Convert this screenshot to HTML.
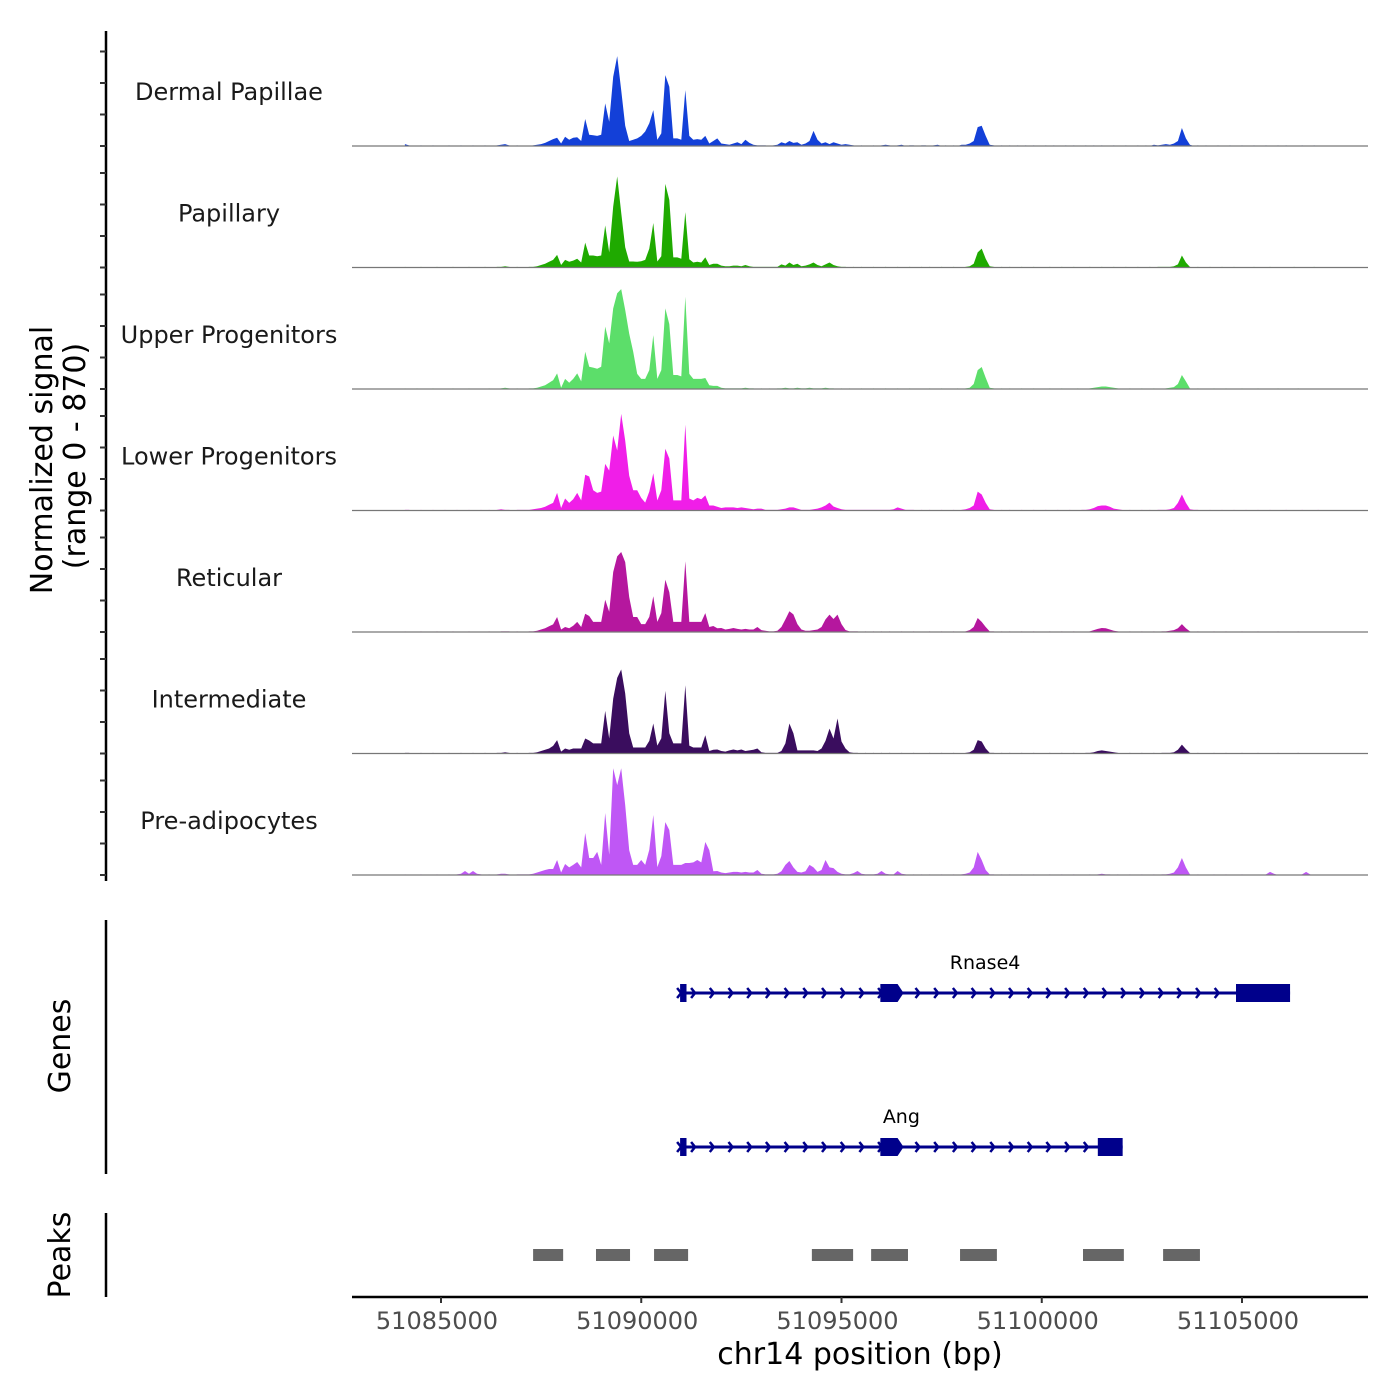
<!DOCTYPE html>
<html><head><meta charset="utf-8"><style>
html,body{margin:0;padding:0;background:#fff;width:1400px;height:1400px;overflow:hidden}
svg text{font-family:"DejaVu Sans","Liberation Sans",sans-serif}
</style></head><body>
<svg id="chart" width="1400" height="1400" viewBox="0 0 1400 1400" xmlns="http://www.w3.org/2000/svg">
<g id="tracks"></g>
<g id="yaxis"></g>
<text transform="translate(52,460) rotate(-90)" text-anchor="middle" font-size="30" fill="#000">Normalized signal</text>
<text transform="translate(85,456) rotate(-90)" text-anchor="middle" font-size="30" fill="#000">(range 0 - 870)</text>
<line x1="106" y1="920" x2="106" y2="1174" stroke="#000" stroke-width="2.5"/>
<text transform="translate(70,1046) rotate(-90)" text-anchor="middle" font-size="30" fill="#000">Genes</text>
<line x1="106" y1="1213" x2="106" y2="1297" stroke="#000" stroke-width="2.5"/>
<text transform="translate(70,1255) rotate(-90)" text-anchor="middle" font-size="30" fill="#000">Peaks</text>
<g id="genes"></g>
<g id="peaks"></g>
<g id="xaxis"></g>
<text x="860" y="1364" text-anchor="middle" font-size="30" fill="#000">chr14 position (bp)</text>
</svg>
<script>
const binStart = 51084100;
const binStep = 100;
const trackNames = ["Dermal Papillae","Papillary","Upper Progenitors","Lower Progenitors","Reticular","Intermediate","Pre-adipocytes"];
const trackColors = ["#1340d8","#1faa00","#5cde6a","#f01ee8","#b5179e","#3a0d5e","#bf57f5"];
const dermalPapillae = [
15,5,0,0,5,0,0,5,0,0, 0,5,0,0,5,0,0,5,0,0, 5,0,0,5,10,15,5,0,5,0,
0,0,5,10,15,25,40,55,66,20, 74,50,65,70,40,214,90,85,80,90,
338,193,550,714,444,160,40,50,60,80, 115,180,285,50,100,563,470,60,60,50,
444,80,50,55,50,80,20,40,60,20, 15,10,20,30,15,50,25,10,5,5,
5,0,5,10,30,20,40,25,30,10, 20,40,120,50,20,30,15,30,20,10,
15,10,5,0,5,0,0,5,0,5, 10,5,0,5,10,0,5,5,0,5, 5,0,5,10,0,5,0,5,0,10,
10,20,40,150,160,80,10,5,0,5, 0,5,0,5,0,5,0,5,0,0, 5,0,5,0,0,5,0,5,0,0,
5,0,5,0,5,0,0,5,0,0, 5,0,0,5,0,5,0,10,5,10, 15,10,20,40,143,60,10,0,5,0,
5,0,0,5,0,0,5,0,0,5, 0,0,5,0,0,5,0,0,5,0, 5,0,0,0,5,0,0,5,0,0, 0];
const papillary = [
5,0,0,0,5,0,0,0,5,0, 0,0,5,0,0,0,5,0,0,0, 5,0,0,5,5,10,5,0,5,0,
0,5,5,10,20,30,45,60,100,20, 60,45,55,70,40,198,95,95,90,95,
333,120,484,722,436,160,48,48,45,50, 60,150,353,48,90,664,537,80,80,70,
440,65,40,45,40,80,20,30,30,15, 10,10,15,15,10,20,10,5,5,5,
5,5,5,5,25,15,40,20,30,10, 15,25,40,20,10,25,40,20,10,5,
5,0,5,0,5,0,0,5,0,0, 5,0,0,5,0,0,5,0,0,5, 0,5,0,0,5,0,0,5,0,0,
5,10,30,120,150,70,10,5,0,5, 0,5,0,0,5,0,0,5,0,0, 0,5,0,0,5,0,0,5,0,0,
0,5,0,0,5,0,0,5,0,0, 5,0,0,5,0,0,5,0,5,5, 5,5,10,25,95,40,5,0,5,0,
0,5,0,0,5,0,0,5,0,0, 0,0,5,0,0,0,5,0,0,0, 0,0,5,0,0,0,0,5,0,0, 0];
const upperProgenitors = [
5,0,0,5,0,0,0,5,0,0, 0,0,5,0,0,0,5,0,0,0, 0,5,0,0,5,10,5,0,5,0,
0,5,5,10,20,30,50,70,124,10, 80,50,80,124,60,296,177,170,160,177,
495,362,640,760,793,627,440,296,120,80, 80,150,428,80,150,640,515,111,111,100,
733,120,80,80,80,87,30,25,25,10, 5,5,5,5,5,10,5,5,0,5,
0,5,0,5,5,10,5,5,10,5, 5,10,5,5,5,10,5,5,0,5,
0,5,0,0,5,0,0,5,0,0, 5,0,0,5,0,0,5,0,0,0, 0,5,0,0,5,0,0,0,5,0,
5,10,40,150,175,90,10,5,0,5, 0,5,0,0,5,0,0,5,0,0, 0,5,0,0,5,0,0,0,5,0,
0,5,10,15,20,20,15,10,5,0, 0,5,0,0,5,0,0,5,0,0, 5,10,15,40,111,60,5,0,5,0,
0,0,5,0,0,5,0,0,0,5, 0,0,0,5,0,0,0,0,5,0, 0,0,0,5,0,0,0,0,0,0, 0];
const lowerProgenitors = [
5,5,0,0,5,0,0,5,0,0, 5,0,0,5,0,0,5,0,0,5, 0,5,0,5,10,5,5,0,5,5,
5,5,10,15,20,30,45,60,140,20, 95,60,90,140,80,283,270,160,140,150,
370,317,595,476,767,555,277,160,160,100, 63,150,296,80,160,490,413,80,80,80,
682,95,80,100,90,120,40,40,30,20, 25,25,25,20,25,20,15,10,15,15,
5,5,5,5,10,15,25,25,15,5, 5,5,10,15,25,40,63,32,20,10,
5,5,5,5,5,5,5,5,5,5, 5,5,10,25,15,5,5,5,0,5, 0,5,0,0,5,0,0,5,0,5,
10,20,40,150,127,60,10,5,0,5, 0,5,0,0,5,0,0,5,0,0, 5,0,0,5,0,0,5,0,0,5,
5,10,20,35,40,40,30,15,10,5, 0,5,0,0,5,0,5,0,5,5, 5,10,20,60,127,60,10,5,5,0,
0,5,0,0,5,0,0,5,0,0, 5,0,0,5,0,0,5,0,0,0, 5,0,0,0,5,0,0,0,5,0, 0];
const reticular = [
5,0,0,0,5,0,0,0,5,0, 0,0,5,0,0,0,5,0,0,0, 0,5,0,0,5,5,5,0,5,0,
0,5,5,10,20,30,45,60,119,20, 40,30,50,80,40,145,127,80,80,80,
256,160,476,600,635,555,277,119,119,63, 63,120,283,80,150,415,317,80,80,80,
561,80,80,80,80,150,40,48,30,32, 20,25,32,25,20,25,20,20,40,15,
10,5,5,10,40,100,165,140,63,20, 10,10,15,20,40,100,138,103,138,63,
16,5,5,5,0,5,0,5,0,5, 0,5,0,0,5,0,0,5,0,0, 0,5,0,0,5,0,0,5,0,0,
5,15,40,111,80,40,5,5,0,5, 0,5,0,0,5,0,0,5,0,0, 0,5,0,0,5,0,0,5,0,0,
0,5,15,25,32,30,20,10,5,0, 0,5,0,0,5,0,0,5,0,5, 5,10,15,30,63,30,5,0,5,0,
0,0,5,0,0,5,0,0,0,5, 0,0,0,5,0,0,0,0,5,0, 0,0,0,5,0,0,0,0,0,0, 0];
const intermediate = [
5,5,0,0,5,0,0,5,0,0, 0,5,0,0,5,0,0,5,0,0, 5,0,0,5,5,10,5,0,5,0,
0,5,5,10,20,30,40,60,106,15, 40,30,40,40,40,119,103,80,80,80,
338,119,436,600,667,476,160,48,48,48, 48,100,238,63,120,497,160,80,80,80,
542,63,48,48,48,145,20,30,32,20, 15,25,32,25,32,20,25,30,40,10,
5,5,5,5,20,80,238,160,25,25, 25,25,25,20,40,100,198,119,278,95,
40,10,5,5,0,5,0,5,0,5, 0,5,0,0,5,0,0,5,0,0, 0,5,0,0,5,0,0,5,0,0,
5,10,30,106,95,40,5,5,0,5, 0,5,0,0,5,0,0,5,0,0, 0,5,0,0,5,0,0,5,0,0,
5,5,10,20,25,20,15,10,5,0, 0,5,0,0,5,0,0,5,0,5, 5,5,10,30,71,35,5,0,5,0,
0,0,5,0,0,5,0,0,0,5, 0,0,0,5,0,0,0,0,5,0, 0,0,0,5,0,0,0,0,0,0, 0];
const preAdipocytes = [
5,0,0,0,5,0,0,0,5,0, 0,5,0,5,10,32,10,32,10,5, 0,5,0,5,10,10,5,0,5,5,
5,5,10,20,30,40,48,48,119,20, 87,60,80,103,60,333,135,135,183,80,
492,160,847,714,847,555,198,80,80,119, 80,200,476,63,150,420,357,80,80,80,
95,95,100,119,100,262,198,30,32,20, 15,20,25,25,20,25,20,20,40,10,
5,5,5,10,30,80,111,60,25,20, 30,80,60,25,40,119,60,55,25,10,
5,5,15,32,10,5,5,5,10,32, 10,5,5,32,10,5,0,5,0,5, 0,5,0,0,5,0,0,5,0,5,
10,20,60,183,119,40,5,5,0,5, 0,5,0,0,5,0,0,5,0,0, 0,5,0,0,5,0,0,5,0,0,
0,5,0,5,10,5,5,0,5,0, 0,5,0,0,5,0,0,5,0,5, 5,10,20,60,135,60,5,0,5,0,
0,0,5,0,0,5,0,0,0,5, 0,0,0,0,0,5,25,10,0,0, 0,0,0,0,5,25,5,0,0,0, 0];
const trackValues = [dermalPapillae,papillary,upperProgenitors,lowerProgenitors,reticular,intermediate,preAdipocytes];
const xTicks = [51085000,51090000,51095000,51100000,51105000];
const geneNames = ["Rnase4","Ang"];
const geneStarts = [51090970,51090970];
const geneEnds = [51106200,51102020];
const geneExonStarts = [[51090970,51095970,51104850],[51090970,51095970,51101400]];
const geneExonEnds = [[51091130,51096500,51106200],[51091130,51096500,51102020]];
const peakStarts = [51087300,51088870,51090320,51094260,51095740,51097960,51101030,51103030];
const peakEnds = [51088050,51089720,51091170,51095290,51096660,51098880,51102050,51103950];

const NS="http://www.w3.org/2000/svg";
function mk(tag,attrs,parent){const e=document.createElementNS(NS,tag);for(const k in attrs)e.setAttribute(k,attrs[k]);parent.appendChild(e);return e;}
const xDom=[51082778,51108146], xRng=[352,1368];
function xs(bp){return xRng[0]+(bp-xDom[0])*(xRng[1]-xRng[0])/(xDom[1]-xDom[0]);}
const trackTop0=36.4, trackPitch=121.5, signalMax=870, signalPx=109.6;
function base(t){return trackTop0+signalPx+t*trackPitch;}
function ys(t,v){return base(t)-v*signalPx/signalMax;}

const tg=document.getElementById('tracks');
trackValues.forEach((vals,t)=>{
  const b=base(t);
  let d='M'+xs(binStart).toFixed(1)+','+b.toFixed(1);
  vals.forEach((v,i)=>{d+=' L'+xs(binStart+i*binStep).toFixed(1)+','+ys(t,v).toFixed(1);});
  d+=' L'+xs(binStart+(vals.length-1)*binStep).toFixed(1)+','+b.toFixed(1)+' Z';
  const p=mk('path',{d:d,fill:trackColors[t],stroke:'none'},tg);
  
  
  const l=mk('line',{x1:352,x2:1368,y1:b,y2:b,stroke:'#777',"stroke-width":1.2},tg);
  
  
  const tx=mk('text',{x:229,y:b-46,"text-anchor":"middle","font-size":24,fill:'#1a1a1a'},tg);
  tx.textContent=trackNames[t];
  
  
});
const ya=document.getElementById('yaxis');
mk('line',{x1:106,x2:106,y1:31,y2:881,stroke:'#000',"stroke-width":2.5},ya);
const yTickVals=[0,250,500,750];
for(let t=0;t<7;t++){yTickVals.forEach(v=>{const y=base(t)-v*0.126;const k=mk('line',{x1:100,x2:106,y1:y,y2:y,stroke:'#333',"stroke-width":2},ya);

});}

const gg=document.getElementById('genes');
const geneY=[993,1147];
geneNames.forEach((g,gi)=>{
  const y=geneY[gi], col='#00008b';
  const grp=mk('g',{},gg);
  
  
  mk('line',{x1:xs(geneStarts[gi]),x2:xs(geneEnds[gi]),y1:y,y2:y,stroke:col,"stroke-width":3},grp);
  const x0=xs(geneStarts[gi]), x1=xs(geneExonStarts[gi][geneExonStarts[gi].length-1]);
  for(let x=x0+15;x<x1-4;x+=18.7){mk('polyline',{points:(x-4)+','+(y-5)+' '+x+','+y+' '+(x-4)+','+(y+5),fill:'none',stroke:col,"stroke-width":2.5},grp);}
  mk('polyline',{points:(x0-3)+','+(y-5)+' '+(x0+1)+','+y+' '+(x0-3)+','+(y+5),fill:'none',stroke:col,"stroke-width":2.5},grp);
  geneExonStarts[gi].forEach((s,ei)=>{
    const a=xs(s), b2=xs(geneExonEnds[gi][ei]);
    if(ei===1){mk('polygon',{points:a+','+(y-9)+' '+(b2-4)+','+(y-9)+' '+(b2+2)+','+y+' '+(b2-4)+','+(y+9)+' '+a+','+(y+9),fill:col},grp);}
    else mk('rect',{x:a,y:y-9,width:Math.max(b2-a,5),height:18,fill:col},grp);
  });
  const lab=mk('text',{x:(xs(geneStarts[gi])+xs(geneEnds[gi]))/2,y:y-24,"text-anchor":"middle","font-size":19,fill:'#000'},grp);
  lab.textContent=g;
  
  
});

const pg=document.getElementById('peaks');
peakStarts.forEach((s,i)=>{const r=mk('rect',{x:xs(s),y:1249,width:xs(peakEnds[i])-xs(s),height:12,fill:'#666'},pg);

});

const xa=document.getElementById('xaxis');
mk('line',{x1:352,x2:1368,y1:1297,y2:1297,stroke:'#000',"stroke-width":2.5},xa);
xTicks.forEach(v=>{const x=xs(v);
  const k=mk('line',{x1:x,x2:x,y1:1297,y2:1303,stroke:'#333',"stroke-width":2},xa);
  
  
  const t=mk('text',{x:x-4,y:1329,"text-anchor":"middle","font-size":24,fill:'#4d4d4d'},xa);
  t.textContent=String(v);
  
  });
</script>
</body></html>
